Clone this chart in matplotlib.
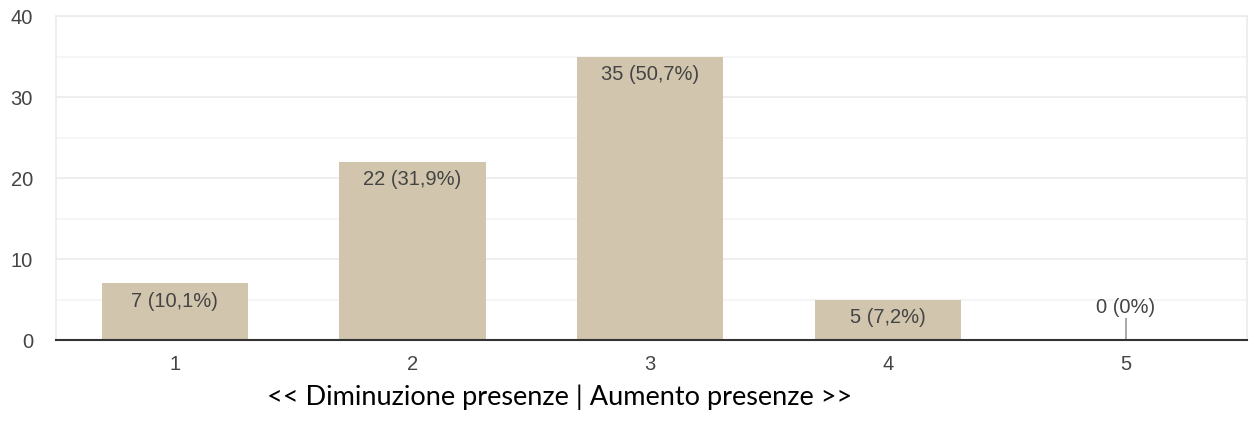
import matplotlib.pyplot as plt
from matplotlib.ticker import MultipleLocator

categories = ["1", "2", "3", "4", "5"]
counts = [7, 22, 35, 5, 0]
labels = ["7 (10,1%)", "22 (31,9%)", "35 (50,7%)", "5 (7,2%)", "0 (0%)"]
xlabel = "<< Diminuzione presenze | Aumento presenze >>"

plt.rcParams["font.family"] = ["Liberation Sans", "DejaVu Sans"]

fig = plt.figure(figsize=(12.55, 4.23), dpi=100)
ax = fig.add_axes([0.0446, 0.196, 0.949, 0.766])

pos = list(range(1, len(categories) + 1))
ax.bar(pos, counts, width=0.615, color="#d1c5ad", zorder=3)

for x, c, lab in zip(pos, counts, labels):
    if c > 0:
        ax.annotate(lab, (x, c), xytext=(0, -6), textcoords="offset points",
                    ha="center", va="top", fontsize=14.5, color="#444444", zorder=4)
    else:
        # zero value: small stem with label above
        ax.vlines(x, 0, 2.7, color="#999999", lw=1.2, zorder=4)
        ax.annotate(lab, (x, 2.7), xytext=(0, 1), textcoords="offset points",
                    ha="center", va="bottom", fontsize=14.5, color="#444444", zorder=4)

ax.set_xlim(0.5, 5.51)
ax.set_ylim(0, 40)
ax.set_xticks(pos)
ax.set_xticklabels(categories)
ax.yaxis.set_major_locator(MultipleLocator(10))
ax.yaxis.set_minor_locator(MultipleLocator(5))
ax.grid(axis="y", which="major", color="#ebebeb", lw=1.2, zorder=0)
ax.grid(axis="y", which="minor", color="#f4f4f4", lw=1.2, zorder=0)
ax.tick_params(axis="both", which="both", length=0, labelsize=14.5, labelcolor="#444444")
ax.tick_params(axis="y", pad=16.5)
ax.tick_params(axis="x", pad=11)

for s in ["left", "right", "top"]:
    ax.spines[s].set_color("#ebebeb")
    ax.spines[s].set_linewidth(1.2)
ax.spines["bottom"].set_color("#333333")
ax.spines["bottom"].set_linewidth(1.5)
ax.spines["bottom"].set_zorder(5)

fig.text(0.446, 0.043, xlabel, ha="center", va="baseline", fontsize=19.5,
         family=["Lato", "DejaVu Sans"], color="#000000")

fig.savefig("out.png", dpi=100)
